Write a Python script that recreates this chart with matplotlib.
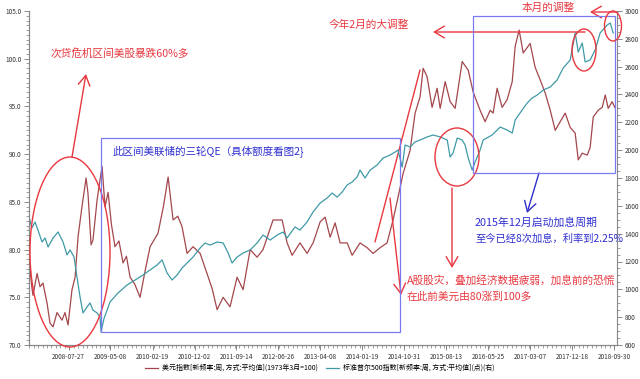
import matplotlib
matplotlib.use('Agg')
import matplotlib.pyplot as plt
import matplotlib.dates as mdates
from matplotlib.patches import Ellipse, Rectangle
from matplotlib.ticker import MultipleLocator
import pandas as pd

plt.rcParams['font.family'] = ['Noto Sans CJK SC', 'DejaVu Sans']

# 美元指数 (左轴)
usd_dates = ['2007-11-07', '2007-11-20', '2007-11-27', '2007-12-25', '2008-01-14', '2008-02-03', '2008-03-02', '2008-03-22', '2008-04-12', '2008-05-09',
             '2008-06-12', '2008-07-02', '2008-07-23', '2008-08-19', '2008-09-09', '2008-09-29', '2008-10-26', '2008-11-23', '2008-12-06', '2008-12-27',
             '2009-01-09', '2009-02-06', '2009-02-26', '2009-03-12', '2009-04-01', '2009-04-22', '2009-05-15', '2009-06-08', '2009-07-05', '2009-08-02',
             '2009-08-25', '2009-09-19', '2009-10-20', '2009-11-26', '2009-12-28', '2010-02-02', '2010-03-28', '2010-05-05', '2010-06-05', '2010-07-09',
             '2010-08-10', '2010-09-08', '2010-10-12', '2010-11-22', '2011-01-09', '2011-02-25', '2011-04-01', '2011-05-05', '2011-06-15', '2011-08-01',
             '2011-09-18', '2011-10-29', '2011-12-16', '2012-02-01', '2012-03-13', '2012-05-20', '2012-07-21', '2012-08-24',
             '2012-09-27', '2012-11-20', '2013-01-07', '2013-02-17', '2013-04-06', '2013-05-10', '2013-06-13', '2013-07-17', '2013-08-20', '2013-10-07',
             '2013-11-10', '2014-01-03', '2014-02-20', '2014-04-02', '2014-05-20', '2014-07-06', '2014-08-16', '2014-09-19', '2014-10-24', '2014-12-10',
             '2015-01-13', '2015-02-16', '2015-03-09', '2015-04-05', '2015-05-09', '2015-06-12', '2015-07-03', '2015-08-06', '2015-09-09', '2015-10-13',
             '2015-11-30', '2016-01-10', '2016-02-13', '2016-03-31', '2016-05-04', '2016-06-08', '2016-06-28', '2016-07-25', '2016-08-28', '2016-10-01',
             '2016-11-05', '2016-11-25', '2016-12-22', '2017-01-19', '2017-03-07', '2017-04-10', '2017-05-14', '2017-06-18', '2017-07-22', '2017-08-25',
             '2017-09-28', '2017-11-01', '2017-12-05', '2018-01-08', '2018-01-29', '2018-02-25', '2018-03-31', '2018-04-20', '2018-05-11', '2018-06-14',
             '2018-07-11', '2018-08-01', '2018-08-21', '2018-09-17', '2018-10-05']
usd_values = [77.9, 76.0, 75.2, 77.5, 76.1, 76.5, 74.4, 72.3, 71.9, 73.4,
              72.6, 73.4, 72.1, 75.8, 77.1, 81.3, 84.5, 87.5, 85.9, 80.5,
              81.0, 85.2, 87.3, 88.7, 84.5, 86.0, 82.6, 80.3, 80.9, 78.6,
              79.3, 77.1, 76.4, 75.0, 77.6, 80.3, 81.7, 84.6, 87.6, 83.1,
              83.5, 82.4, 79.6, 80.3, 79.6, 77.5, 75.9, 73.7, 75.0, 74.0,
              77.1, 75.8, 80.0, 79.2, 80.0, 83.1, 83.1, 80.7,
              79.4, 80.7, 79.6, 80.7, 82.9, 83.4, 81.3, 82.8, 80.7, 80.7,
              79.4, 80.7, 80.2, 79.6, 80.2, 80.7, 83.1, 85.5, 88.0, 90.4,
              94.3, 96.0, 99.0, 98.1, 94.9, 96.9, 94.8, 97.6, 95.5, 94.8,
              99.7, 98.8, 96.5, 94.6, 93.4, 94.6, 94.3, 96.9, 94.9, 95.7,
              97.6, 101.3, 103.0, 100.6, 101.6, 99.1, 97.8, 96.4, 94.6, 92.5,
              93.4, 94.3, 92.8, 92.2, 89.4, 90.1, 89.9, 90.7, 93.9, 94.6,
              94.9, 96.2, 94.8, 95.5, 94.9]

# 标准普尔500指数 (右轴)
spx_dates = ['2007-10-31', '2007-11-20', '2007-12-11', '2007-12-31', '2008-01-28', '2008-02-17', '2008-03-09', '2008-04-12', '2008-05-16', '2008-06-19',
             '2008-07-16', '2008-08-06', '2008-09-02', '2008-09-22', '2008-10-13', '2008-11-02', '2008-11-29', '2008-12-20', '2009-01-09', '2009-02-06',
             '2009-02-26', '2009-03-05', '2009-03-25', '2009-05-05', '2009-06-29', '2009-08-29', '2009-10-23', '2009-12-16', '2010-02-02', '2010-03-22',
             '2010-04-25', '2010-05-29', '2010-07-02', '2010-08-05', '2010-09-08', '2010-10-12', '2010-11-22', '2011-01-09', '2011-02-12', '2011-03-18',
             '2011-05-05', '2011-06-15', '2011-07-19', '2011-08-15', '2011-09-18', '2011-10-29', '2011-12-16', '2012-02-01', '2012-03-13', '2012-04-30',
             '2012-06-17', '2012-07-28', '2012-08-24', '2012-10-17', '2012-11-20', '2013-01-07', '2013-02-17', '2013-04-06', '2013-05-23', '2013-06-27',
             '2013-07-31', '2013-09-03', '2013-10-07', '2013-11-10', '2013-12-14', '2014-01-03', '2014-02-06', '2014-03-13', '2014-04-29', '2014-06-09',
             '2014-07-27', '2014-08-30', '2014-09-19', '2014-10-17', '2014-11-06', '2014-12-10', '2015-01-13', '2015-02-16', '2015-04-05', '2015-05-16',
             '2015-07-03', '2015-08-20', '2015-09-09', '2015-09-29', '2015-10-27', '2015-11-30', '2015-12-20', '2016-01-10', '2016-02-06', '2016-02-26',
             '2016-03-31', '2016-04-21', '2016-06-21', '2016-08-15', '2016-10-01', '2016-11-05', '2016-11-25', '2017-01-12', '2017-02-15', '2017-03-21',
             '2017-04-24', '2017-06-04', '2017-07-22', '2017-09-07', '2017-10-18', '2017-12-05', '2018-01-08', '2018-01-29', '2018-02-25', '2018-03-17',
             '2018-04-20', '2018-05-24', '2018-06-27', '2018-08-14', '2018-09-04', '2018-09-24']
spx_values = [1520, 1441, 1484, 1426, 1340, 1369, 1304, 1369, 1412, 1340,
              1247, 1283, 1232, 1088, 944, 830, 873, 902, 851, 830,
              801, 693, 790, 909, 974, 1031, 1067, 1103, 1139, 1175,
              1211, 1117, 1067, 1103, 1153, 1189, 1232, 1297, 1333, 1318,
              1340, 1333, 1261, 1189, 1232, 1261, 1283, 1333, 1390, 1354,
              1390, 1412, 1370, 1448, 1426, 1484, 1556, 1620, 1656, 1692,
              1663, 1699, 1750, 1771, 1807, 1857, 1800, 1857, 1893, 1944,
              1965, 1987, 2001, 1879, 2037, 2023, 2059, 2073, 2095, 2109,
              2095, 2073, 1951, 1980, 2087, 2073, 2037, 1944, 1857, 1915,
              2001, 2073, 2109, 2166, 2145, 2123, 2217, 2289, 2339, 2375,
              2396, 2432, 2454, 2504, 2590, 2648, 2842, 2705, 2770, 2634,
              2648, 2720, 2842, 2899, 2914, 2842]

tick_labels = ['2008-07-27', '2009-05-08', '2010-02-19', '2010-12-02', '2011-09-14', '2012-06-26', '2013-04-08',
               '2014-01-19', '2014-10-31', '2015-08-13', '2016-05-25', '2017-03-07', '2017-12-18', '2018-09-30']

W, H = 640, 379
red = '#e8383f'
blue = '#2f2fd0'
box = '#7a7af0'

fig = plt.figure(figsize=(6.4, 3.79), dpi=100)
ax = fig.add_axes([29 / W, 1 - 345 / H, (617 - 29) / W, (345 - 11) / H])
ax2 = ax.twinx()

l1, = ax.plot(pd.to_datetime(usd_dates), usd_values, color='#a3474c', lw=0.9)
l2, = ax2.plot(pd.to_datetime(spx_dates), spx_values, color='#3f9aa6', lw=0.9)

ax.set_ylim(70, 105)
ax2.set_ylim(600, 3000)
ax.set_xlim(pd.Timestamp('2007-10-31'), pd.Timestamp('2018-10-20'))
ax.set_xticks(pd.to_datetime(tick_labels))
ax.set_xticklabels(tick_labels)
ax.xaxis.set_minor_locator(mdates.MonthLocator())
ax.yaxis.set_major_locator(MultipleLocator(5))
ax.yaxis.set_minor_locator(MultipleLocator(0.5))
ax.yaxis.set_major_formatter(matplotlib.ticker.FormatStrFormatter('%.1f'))
ax2.yaxis.set_major_locator(MultipleLocator(200))
ax2.yaxis.set_minor_locator(MultipleLocator(50))

for a in (ax, ax2):
    a.spines['top'].set_visible(False)
    for s in ('left', 'right', 'bottom'):
        a.spines[s].set_color('#888888')
        a.spines[s].set_linewidth(0.8)
    a.tick_params(which='major', length=3.5, width=0.6, color='#777777', labelsize=4.6, labelcolor='#333333', pad=2)
    a.tick_params(which='minor', length=2, width=0.5, color='#777777')
ax.spines['right'].set_visible(False)

fig.legend([l1, l2], ['美元指数[新频率:周, 方式:平均值](1973年3月=100)', '标准普尔500指数[新频率:周, 方式:平均值](点)(右)'],
           loc='center', bbox_to_anchor=(320 / W, 1 - 368 / H), ncol=2, frameon=False,
           fontsize=5, handlelength=1.8, columnspacing=1.2, handletextpad=0.6)


def fp(x, y):
    return (x / W, 1 - y / H)


def ellipse(x, y, w, h):
    fig.add_artist(Ellipse(fp(x, y), w / W, h / H, transform=fig.transFigure, fill=False, ec=red, lw=1))


def rect(x0, y0, x1, y1):
    fig.add_artist(Rectangle(fp(x0, y1), (x1 - x0) / W, (y1 - y0) / H, transform=fig.transFigure,
                             fill=False, ec=box, lw=0.9))


def arrow(x0, y0, x1, y1, color=red, head=True):
    style = '->' if head else '-'
    ax.annotate('', xy=(x1, H - y1), xytext=(x0, H - y0), xycoords='figure pixels', textcoords='figure pixels',
                arrowprops=dict(arrowstyle=style + (',head_length=0.6,head_width=0.35' if head else ''),
                                color=color, lw=1, mutation_scale=12, shrinkA=0, shrinkB=0))


def label(x, y, s, color=red, size=7.7):
    fig.text(x / W, 1 - y / H, s, color=color, fontsize=size, ha='left', va='center')


# 次贷危机
ellipse(70, 252, 80, 190)
arrow(72, 157, 86, 74)
label(51, 53, '次贷危机区间美股暴跌60%多')

# QE区间
rect(101, 138, 400, 332)
label(113, 151, '此区间美联储的三轮QE（具体额度看图2}', color=blue, size=7.6)

# 2014 年美元上涨
arrow(375, 242, 420, 70, head=False)
arrow(390, 198, 401, 295)
ellipse(457, 157, 44, 58)
arrow(452, 188, 452, 268)
label(407, 280, 'A股股灾，叠加经济数据疲弱，加息前的恐慌')
label(407, 297, '在此前美元由80涨到100多')

# 加息周期
rect(473, 16, 615, 173)
arrow(539, 173, 527, 213, color=blue)
label(475, 223, '2015年12月启动加息周期', color=blue, size=7.8)
label(475, 239, '至今已经8次加息，利率到2.25%', color=blue, size=7.4)

# 调整
ellipse(584, 50, 24, 42)
ellipse(613, 26, 17, 30)
arrow(585, 32, 433, 32)
label(329, 25, '今年2月的大调整')
arrow(618, 12, 590, 12)
label(522, 8, '本月的调整')

fig.savefig('out.png', dpi=100, facecolor='white')
